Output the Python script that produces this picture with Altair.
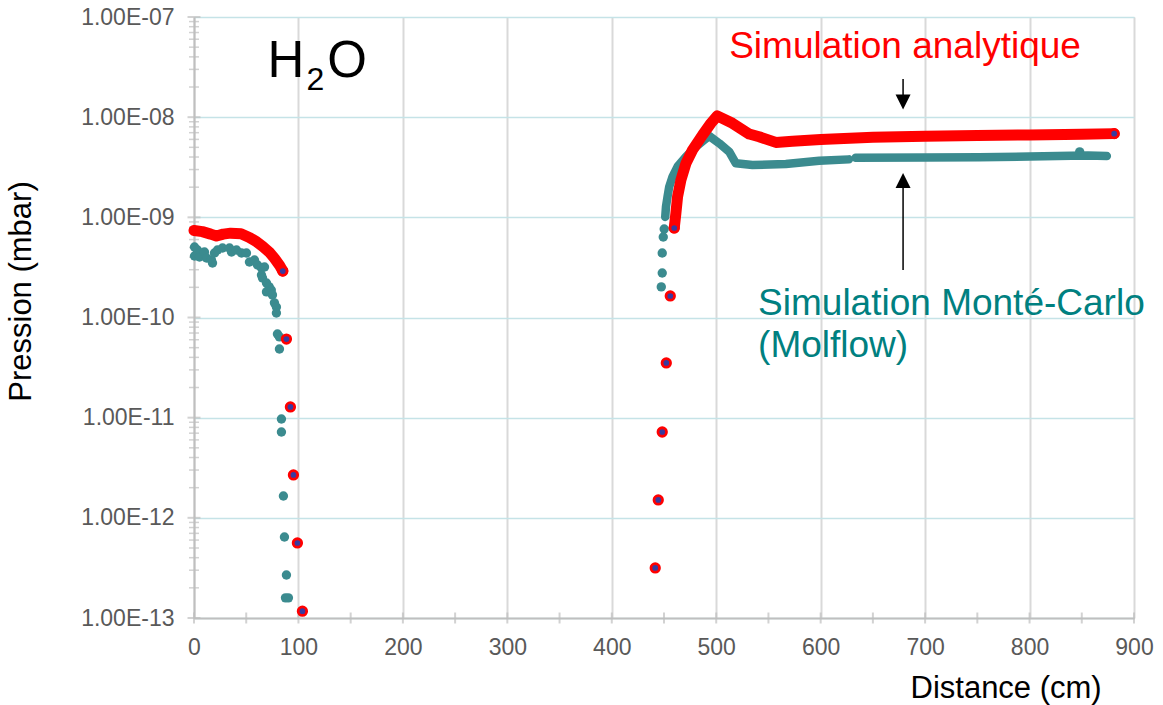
import altair as alt
import pandas as pd

FONT = "Liberation Sans"
RED = "#ff0000"
TEAL = "#3b8b8f"
BLUE = "#3a3a9e"
TEXT_TEAL = "#008080"

# ---- Analytical simulation (red) : continuous parts ----
red_left_x = [0, 8, 16, 21.5, 28, 35, 45, 53, 60, 66, 72, 77, 82, 85]
red_left_y = [7.4e-10, 7.2e-10, 6.8e-10, 6.5e-10, 6.8e-10, 6.95e-10, 6.85e-10, 6.3e-10,
              5.7e-10, 5.1e-10, 4.5e-10, 3.9e-10, 3.3e-10, 2.91e-10]
red_right_x = [459.8, 461.4, 463, 466.2, 471, 477.3, 486.9, 494.9, 501, 515.6, 531.6, 541.1,
               557.1, 573, 600, 650, 700, 750, 800, 850, 881]
red_right_y = [7.83e-10, 1.10e-9, 1.61e-9, 2.36e-9, 3.46e-9, 4.70e-9, 6.64e-9, 8.69e-9, 1.03e-8,
               8.69e-9, 6.79e-9, 6.38e-9, 5.6e-9, 5.75e-9, 6.0e-9, 6.3e-9, 6.45e-9, 6.55e-9,
               6.65e-9, 6.75e-9, 6.85e-9]
# ---- Analytical simulation : separate markers ----
red_pts_x = [88.5, 92.3, 95.2, 99.0, 103.8, 441.6, 444.5, 448.3, 452.2, 456.0, 85, 459.8, 881]
red_pts_y = [6.09e-11, 1.28e-11, 2.68e-12, 5.61e-13, 1.17e-13, 3.16e-13, 1.51e-12, 7.19e-12,
             3.52e-11, 1.64e-10, 2.91e-10, 7.83e-10, 6.85e-9]

# ---- Monte-Carlo simulation (teal) : scattered points ----
teal_pts_x = [0.5, 0.5, 3.3, 5.3, 10, 12, 16.7, 17.7, 19.6, 22.5, 27.3, 34, 35.9, 40.7, 45.5,
              50.2, 53.1, 57.9, 60.8, 64.6, 67.5, 64.6, 65.6, 69.4, 72, 74, 69.4, 75.1, 77,
              78.9, 78.9, 79.9, 81.8, 81.8, 83.7, 83.7, 85.6, 86.6, 88.5, 87.6, 90.4,
              447.4, 448.3, 448.3, 449.3, 450.2, 848]
teal_pts_y = [5.06e-10, 4.11e-10, 4.72e-10, 4.02e-10, 4.51e-10, 3.93e-10, 3.75e-10, 3.50e-10,
              4.41e-10, 4.72e-10, 4.94e-10, 4.94e-10, 4.51e-10, 4.72e-10, 4.41e-10, 4.41e-10,
              3.58e-10, 3.75e-10, 3.34e-10, 3.12e-10, 3.19e-10, 2.65e-10, 2.48e-10, 2.21e-10,
              2.02e-10, 1.88e-10, 1.80e-10, 1.68e-10, 1.40e-10, 1.27e-10, 1.11e-10, 6.84e-11,
              6.4e-11, 4.85e-11, 9.7e-12, 7.2e-12, 1.65e-12, 6.44e-13, 2.69e-13, 1.59e-13,
              1.59e-13, 2.02e-10, 2.78e-10, 4.41e-10, 6.37e-10, 7.65e-10, 4.5e-9]
# ---- Monte-Carlo simulation : dense band ----
teal_a_x = [451.2, 451.9, 453.4, 455, 458.2, 463, 471, 480.6, 488.5, 493.3, 502.9, 512.4, 518.8,
            534.7, 566.7, 598.6, 627]
teal_a_y = [1.01e-9, 1.28e-9, 1.61e-9, 2.02e-9, 2.55e-9, 3.21e-9, 4.03e-9, 5.07e-9, 5.91e-9,
            6.49e-9, 5.48e-9, 4.52e-9, 3.46e-9, 3.33e-9, 3.41e-9, 3.67e-9, 3.79e-9]
teal_b_x = [633.5, 700, 751.7, 800, 840, 856, 874]
teal_b_y = [3.94e-9, 3.95e-9, 3.97e-9, 4.05e-9, 4.12e-9, 4.15e-9, 4.09e-9]

# ---- axes ----
x_ticks = list(range(0, 901, 100))
x_minor = list(range(0, 901, 50))
y_ticks = [1e-13, 1e-12, 1e-11, 1e-10, 1e-9, 1e-8, 1e-7]
y_minor = [m * 10.0 ** e for e in range(-13, -7) for m in range(2, 10)]

# ---- annotations ----
lab_text = ["Simulation analytique", "Simulation Monté-Carlo", "(Molflow)"]
lab_x = [512.4, 540.1, 540.1]
lab_y = [3.90e-8, 1.06e-10, 4.04e-11]
lab_color = [RED, TEXT_TEAL, TEXT_TEAL]

h2o_text = ["H", "2", "O"]
h2o_x = [70.3, 107.7, 127.5]
h2o_y = [2.52e-8, 1.87e-8, 2.52e-8]
h2o_size = [51, 32, 51]

arrow_x = [678.9, 678.9]
arrow_y1 = [2.40e-8, 2.06e-9]
arrow_y2 = [1.66e-8, 2.98e-10]
head_down = (678.9, 1.42e-8)
head_up = (678.9, 2.33e-9)

xs = alt.Scale(domain=[0, 900], nice=False, zero=False)
ys = alt.Scale(type="log", domain=[1e-13, 1e-7], nice=False)

xaxis = alt.Axis(values=x_ticks, title="Distance (cm)", grid=True, gridColor="#d9d9d9",
                 gridWidth=2, ticks=False, domainColor="#bfbfbf", domainWidth=2,
                 labelFont=FONT, labelFontSize=23, labelColor="#595959", labelPadding=18,
                 labelFlush=False, labelOverlap=False,
                 titleFont=FONT, titleFontSize=31, titleFontWeight="normal", titleColor="black",
                 titleX=716, titleY=79, titleAlign="left", titleBaseline="alphabetic")
yaxis = alt.Axis(values=y_ticks, title="Pression (mbar)", grid=True, gridColor="#c5e3e7",
                 gridWidth=1.5, ticks=False, domainColor="#bfbfbf", domainWidth=2,
                 labelFont=FONT, labelFontSize=23, labelColor="#595959", labelPadding=20,
                 labelFlush=False, labelOverlap=False,
                 labelExpr="'1.00E-' + (round(-log(datum.value)/LN10) < 10 ? '0' : '') + round(-log(datum.value)/LN10)",
                 titleFont=FONT, titleFontSize=31, titleFontWeight="normal", titleColor="black",
                 titleAngle=270, titleX=-164, titleY=274, titleAlign="center",
                 titleBaseline="alphabetic")


def X(f="x"):
    return alt.X(f, type="quantitative", scale=xs, axis=xaxis)


def Y(f="y"):
    return alt.Y(f, type="quantitative", scale=ys, axis=yaxis)


def seg_df(xl, yl, seg):
    return pd.DataFrame({"x": xl, "y": yl, "seg": seg, "i": list(range(len(xl)))})


ymaj = alt.Chart(pd.DataFrame({"y": y_ticks})).mark_tick(
    orient="horizontal", size=13, thickness=2, color="#bfbfbf").encode(x=alt.value(0), y=Y())
ymin = alt.Chart(pd.DataFrame({"y": y_minor})).mark_tick(
    orient="horizontal", size=10, thickness=1.5, color="#bfbfbf").encode(x=alt.value(0), y=Y())
xmin = alt.Chart(pd.DataFrame({"x": x_minor})).mark_tick(
    orient="vertical", size=11, thickness=2, color="#bfbfbf").encode(x=X(), y=alt.value(601))

teal_pts = alt.Chart(pd.DataFrame({"x": teal_pts_x, "y": teal_pts_y})).mark_circle(
    size=88, color=TEAL, opacity=1).encode(x=X(), y=Y())
teal_line = alt.Chart(pd.concat([seg_df(teal_a_x, teal_a_y, "a"),
                                 seg_df(teal_b_x, teal_b_y, "b")])).mark_line(
    color=TEAL, strokeWidth=8.5, strokeCap="round", strokeJoin="round").encode(
    x=X(), y=Y(), detail="seg:N", order="i:Q")
red_line = alt.Chart(pd.concat([seg_df(red_left_x, red_left_y, "l"),
                                seg_df(red_right_x, red_right_y, "r")])).mark_line(
    color=RED, strokeWidth=11, strokeCap="round", strokeJoin="round").encode(
    x=X(), y=Y(), detail="seg:N", order="i:Q")
red_pts = alt.Chart(pd.DataFrame({"x": red_pts_x, "y": red_pts_y})).mark_circle(
    size=72, color=BLUE, stroke=RED, strokeWidth=2.8, opacity=1, strokeOpacity=1).encode(
    x=X(), y=Y())

labels = alt.Chart(pd.DataFrame({"x": lab_x, "y": lab_y, "t": lab_text, "c": lab_color})).mark_text(
    align="left", baseline="alphabetic", font=FONT, fontSize=37).encode(
    x=X(), y=Y(), text="t:N", color=alt.Color("c:N", scale=None))
h2o = alt.Chart(pd.DataFrame({"x": h2o_x, "y": h2o_y, "t": h2o_text, "s": h2o_size})).mark_text(
    align="left", baseline="alphabetic", font=FONT, color="black").encode(
    x=X(), y=Y(), text="t:N", size=alt.Size("s:Q", scale=None))

arrows = alt.Chart(pd.DataFrame({"x": arrow_x, "y": arrow_y1, "y2": arrow_y2})).mark_rule(
    color="black", strokeWidth=1.5).encode(x=X(), y=Y(), y2="y2")
hd = alt.Chart(pd.DataFrame({"x": [head_down[0]], "y": [head_down[1]]})).mark_point(
    shape="M-1,-1L1,-1L0,1Z", filled=True, color="black", size=225, opacity=1).encode(x=X(), y=Y())
hu = alt.Chart(pd.DataFrame({"x": [head_up[0]], "y": [head_up[1]]})).mark_point(
    shape="M-1,1L1,1L0,-1Z", filled=True, color="black", size=225, opacity=1).encode(x=X(), y=Y())

chart = alt.layer(ymaj, ymin, xmin, teal_pts, teal_line, red_line, red_pts, labels, h2o,
                  arrows, hd, hu).properties(
    width=940, height=601,
    padding={"left": 194, "top": 17, "right": 29, "bottom": 87},
    autosize=alt.AutoSizeParams(type="none"),
).configure_view(stroke=None).configure(background="white")

chart.save("out.html", embed_options={"renderer": "svg", "actions": False})
